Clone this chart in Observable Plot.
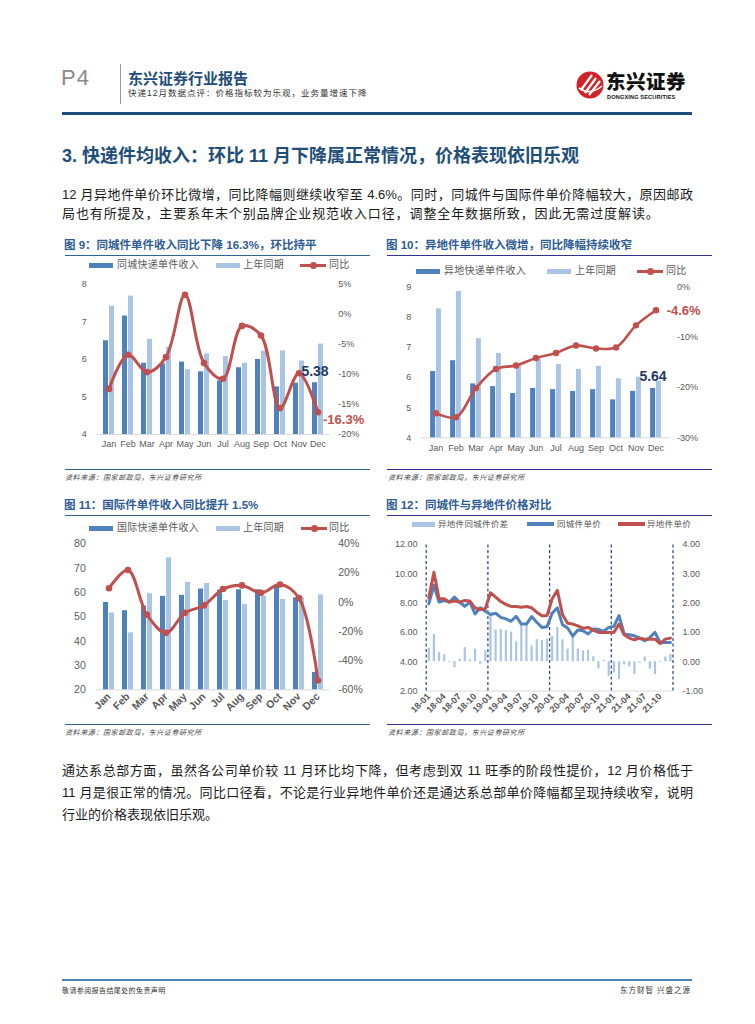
<!DOCTYPE html>
<html><head><meta charset="utf-8">
<script src="https://cdn.jsdelivr.net/npm/d3@7"></script>
<script src="https://cdn.jsdelivr.net/npm/@observablehq/plot@0.6"></script>
<style>
html,body{margin:0;padding:0;background:#fff}
body{width:755px;height:1024px;position:relative;overflow:hidden;font-family:"Liberation Sans","Noto Sans CJK SC",sans-serif;color:#222}
.a{position:absolute;white-space:nowrap}
.ttl{font-size:11.5px;font-weight:bold;color:#2e5c94;line-height:14px}
.src{font-size:7px;font-style:italic;color:#444;letter-spacing:.6px;line-height:10px}
.lg{font-size:10px;letter-spacing:.25px;color:#595959;line-height:12px}
.lg12{font-size:8.5px;letter-spacing:.3px;color:#595959;line-height:10px}
.para{font-size:13px;line-height:16px;width:631px;text-align:justify;text-align-last:justify;color:#1a1a1a;white-space:normal}
.last{text-align:left;text-align-last:left}
</style></head><body>
<script>
// ---------- data ----------
const months = ["Jan","Feb","Mar","Apr","May","Jun","Jul","Aug","Sep","Oct","Nov","Dec"];
// Fig 9 同城
const cityCur   = [6.50,7.16,5.90,5.88,5.93,5.67,5.43,5.78,6.00,5.27,5.37,5.38];
const cityPrior = [7.42,7.69,6.54,6.33,5.73,6.15,6.08,5.90,6.22,6.23,5.96,6.41];
const cityYoy   = [-12.4,-6.7,-9.6,-7.1,3.3,-8.1,-10.7,-1.9,-3.5,-15.6,-9.8,-16.3];
// Fig 10 异地
const interCur   = [6.20,6.56,5.79,5.70,5.47,5.64,5.60,5.54,5.60,5.26,5.54,5.64];
const interPrior = [8.28,8.86,7.29,6.80,6.45,6.62,6.43,6.27,6.37,5.96,6.01,5.88];
const interYoy   = [-25.1,-25.9,-20.1,-16.3,-15.6,-14.1,-13.1,-11.6,-12.2,-12.0,-7.6,-4.6];
// Fig 11 国际
const intlCur   = [55.9,52.5,54.4,58.4,58.8,61.4,61.0,61.1,61.1,62.9,57.8,27.1];
const intlPrior = [51.6,43.4,59.5,74.2,64.1,63.7,56.7,55.1,58.4,57.1,57.8,59.0];
const intlYoy   = [9.6,22.0,-8.6,-21.0,-7.3,-2.2,9.0,11.5,6.4,12.1,2.8,-53.6];
// Fig 12
const months12 = ["18-01","18-02","18-03","18-04","18-05","18-06","18-07","18-08","18-09","18-10","18-11","18-12",
  "19-01","19-02","19-03","19-04","19-05","19-06","19-07","19-08","19-09","19-10","19-11","19-12",
  "20-01","20-02","20-03","20-04","20-05","20-06","20-07","20-08","20-09","20-10","20-11","20-12",
  "21-01","21-02","21-03","21-04","21-05","21-06","21-07","21-08","21-09","21-10","21-11","21-12"];
const spread12 = [0.46,0.92,0.31,0.23,-0.03,-0.21,0.09,0.48,0.06,0.43,-0.09,0.37,
  1.54,1.08,1.10,1.06,1.01,0.68,1.23,1.23,0.54,0.75,0.72,0.77,
  0.87,1.17,0.75,0.43,0.84,0.43,0.37,0.39,0.17,-0.25,0.05,-0.50,
  -0.38,-0.61,-0.11,-0.18,-0.44,-0.05,0.16,-0.26,-0.44,-0.03,0.16,0.25];
const cityPrice12 = [7.95,9.22,8.07,8.18,8.07,8.41,8.07,7.77,8.07,7.26,7.68,7.45,
  7.22,7.31,7.03,6.92,6.76,7.10,6.57,6.57,7.08,6.69,6.34,6.39,
  7.31,7.68,6.53,6.30,5.75,6.16,6.11,5.89,6.23,6.21,6.07,6.34,
  6.41,7.15,5.89,5.84,5.77,5.61,5.43,5.66,6.00,5.31,5.31,5.31];
const interPrice12 = [8.35,10.10,8.30,8.30,8.07,8.14,8.07,8.18,8.14,7.68,7.56,7.61,
  8.71,8.41,8.11,7.91,7.77,7.77,7.72,7.77,7.68,7.38,7.13,7.15,
  8.30,8.87,7.22,6.62,6.57,6.44,6.28,6.34,6.16,6.00,6.00,6.00,
  6.00,6.57,5.84,5.61,5.49,5.61,5.54,5.54,5.54,5.24,5.54,5.61];
const ticks9L = [4,5,6,7,8], ticks9R = [-20,-15,-10,-5,0,5];
const ticks10L = [4,5,6,7,8,9], ticks10R = [-30,-20,-10,0];
const ticks11L = [20,30,40,50,60,70,80], ticks11R = [-60,-40,-20,0,20,40];
const ticks12L = [2,4,6,8,10,12], ticks12R = [-1,0,1,2,3,4];

// ---------- helpers ----------
const FONT = '"Liberation Sans","Noto Sans CJK SC",sans-serif';
const DARK = "#4f81bd", LIGHT = "#a9c4e4", RED = "#c0504d";
function el(html, left, top, cls, style){
  const d = document.createElement("div");
  d.className = "a " + (cls||"");
  d.style.left = left + "px"; d.style.top = top + "px";
  if (style) d.style.cssText += style;
  d.innerHTML = html;
  document.body.appendChild(d);
  return d;
}
function box(left, top, w, h, color){
  return el("", left, top, "", `width:${w}px;height:${h}px;background:${color}`);
}
function place(svg, left, top){
  const w = document.createElement("div");
  w.className = "a"; w.style.left = left+"px"; w.style.top = top+"px";
  w.appendChild(svg); document.body.appendChild(w);
}

function combo(o){
  const toL = d3.scaleLinear().domain(o.rDomain).range(o.yDomain);
  const rows = months.map((m,i)=>({m, cur:o.cur[i], prior:o.prior[i], yoy:o.yoy[i], yl:toL(o.yoy[i])}));
  const base = o.yDomain[0];
  const pw = o.width - o.ml - o.mr, step = pw / months.length;
  const pi = 1 - o.barW / step;
  const off = o.barW/2 + 0.5;
  const last = [rows[rows.length-1]];
  const marks = [
    Plot.ruleY([base], {stroke:"#d9d9d9", strokeWidth:1}),
    Plot.barY(rows, {x:"m", y1:()=>base, y2:"cur", fill:DARK, dx:-off}),
    Plot.barY(rows, {x:"m", y1:()=>base, y2:"prior", fill:LIGHT, dx:off}),
    Plot.line(rows, {x:"m", y:"yl", stroke:RED, strokeWidth:o.lw, curve:"catmull-rom"}),
    Plot.dot(rows, {x:"m", y:"yl", r:o.r, fill:RED, stroke:"none"}),
    Plot.axisY(o.yTicks, {tickSize:0, tickPadding:o.lpad, fontSize:o.fs, label:null}),
    Plot.axisY(o.rTicks.map(toL), {anchor:"right", tickSize:0, tickPadding:o.rpad, fontSize:o.fs, label:null,
      tickFormat:v=>Math.round(toL.invert(v))+"%"}),
    Plot.axisX(months, {tickSize:0, tickPadding:o.xpad, fontSize:o.xfs, fontWeight:o.xfw||"normal", tickRotate:o.rot||0, label:null})
  ];
  if (o.annot) {
    marks.push(Plot.text(last, {x:"m", y:"cur", text:d=>d.cur.toFixed(2), dx:o.annot.cdx, dy:o.annot.cdy,
      fill:"#1f3864", fontSize:14, fontWeight:"bold"}));
    marks.push(Plot.text(last, {x:"m", y:"yl", text:d=>d.yoy.toFixed(1)+"%", textAnchor:"start", dx:o.annot.ydx, dy:o.annot.ydy,
      fill:RED, fontSize:13, fontWeight:"bold"}));
  }
  return Plot.plot({
    width:o.width, height:o.height, marginTop:o.mt, marginBottom:o.mb, marginLeft:o.ml, marginRight:o.mr,
    style:{fontFamily:FONT, color:"#595959", background:"none", overflow:"visible"},
    x:{type:"band", domain:months, paddingInner:pi, paddingOuter:pi/2, label:null},
    y:{domain:o.yDomain, label:null},
    marks
  });
}

function legend3(y, pos, names){
  box(pos[0], y-2.5, 24, 5, DARK);
  el(names[0], pos[1], y-6, "lg");
  box(pos[2], y-2.5, 24, 5, LIGHT);
  el(names[1], pos[3], y-6, "lg");
  box(pos[4], y-1.5, 26, 3, RED);
  el("", pos[4]+13-3.5, y-3.5, "", `width:7px;height:7px;border-radius:50%;background:${RED}`);
  el(names[2], pos[5], y-6, "lg");
}

// ---------- header ----------
el("P4", 61, 66, "", "font-size:22px;color:#8a8a8a;line-height:24px;letter-spacing:1px");
box(120, 64, 1, 40, "#9a9a9a");
el("东兴证券行业报告", 128, 69, "", "font-size:15px;font-weight:bold;color:#1f4e79;line-height:18px;font-family:'Noto Sans CJK SC'");
el("快递12月数据点评：价格指标较为乐观，业务量增速下降", 128, 88, "", "font-size:8.5px;letter-spacing:1px;color:#333;line-height:11px");
el(`<svg width="30" height="38" viewBox="0 0 30 38">
  <circle cx="14" cy="19" r="13.5" fill="#d2232a"/>
  <path d="M5 24 L16 9 M9 27 L20 12 M13 29 L24 15" stroke="#fff" stroke-width="2.2" fill="none"/>
  <path d="M3 22 Q14 30 26 20" stroke="#fff" stroke-width="1.6" fill="none"/>
</svg>`, 576, 66, "");
el("东兴证券", 606, 69, "", "font-size:19.5px;font-weight:900;color:#111;line-height:24px;font-family:'Noto Sans CJK SC';letter-spacing:.5px");
el("DONGXING SECURITIES", 607, 94, "", "font-size:5.6px;font-weight:bold;color:#111;line-height:7px;letter-spacing:.15px");
box(62, 112, 630, 3, "#1f4e79");

// ---------- section heading & paragraph ----------
el("3.&nbsp;快递件均收入：环比 11 月下降属正常情况，价格表现依旧乐观", 62, 145, "",
  "font-size:18px;font-weight:bold;color:#1f4e79;line-height:22px;font-family:'Liberation Sans','Noto Sans CJK SC'");
el("12 月异地件单价环比微增，同比降幅则继续收窄至 4.6%。同时，同城件与国际件单价降幅较大，原因邮政", 62, 187, "para");
el("局也有所提及，主要系年末个别品牌企业规范收入口径，调整全年数据所致，因此无需过度解读。", 62, 206, "para last", "letter-spacing:0.9px");

// ---------- figure titles / rules / sources ----------
el("图 9：同城件单件收入同比下降 16.3%，环比持平", 64, 238, "ttl");
el("图 10：异地件单件收入微增，同比降幅持续收窄", 386, 238, "ttl");
el("图 11：国际件单件收入同比提升 1.5%", 64, 498, "ttl");
el("图 12：同城件与异地件价格对比", 386, 498, "ttl");
const LC = "#2f6296", RC = "#2e3192";
box(65, 254.5, 305, 1.5, LC); box(387, 254.5, 325, 1.5, RC);
box(65, 468.5, 305, 1.5, LC); box(387, 468.5, 325, 1.5, RC);
box(65, 514.5, 305, 1.5, LC); box(387, 514.5, 325, 1.5, RC);
box(65, 723.5, 305, 1.5, LC); box(387, 723.5, 325, 1.5, RC);
const srcText = "资料来源：国家邮政局，东兴证券研究所";
el(srcText, 65, 473, "src"); el(srcText, 388, 473, "src");
el(srcText, 65, 728, "src"); el(srcText, 388, 728, "src");

// ---------- legends ----------
legend3(265, [89,117,216,243,300,329], ["同城快递单件收入","上年同期","同比"]);
legend3(271, [416,444,547,575,637,666], ["异地快递单件收入","上年同期","同比"]);
legend3(528, [89,117,216,243,301,329], ["国际快递单件收入","上年同期","同比"]);
box(412, 521.5, 23, 5, LIGHT); el("异地件同城件价差", 438, 519, "lg12");
box(527, 522, 27, 3.5, DARK); el("同城件单价", 557, 519, "lg12");
box(618, 522, 27, 3.5, RED); el("异地件单价", 647, 519, "lg12");

// ---------- charts ----------
place(combo({cur:cityCur, prior:cityPrior, yoy:cityYoy, yDomain:[4,8], rDomain:[-20,5], yTicks:ticks9L, rTicks:ticks9R,
  width:340, height:190, mt:14, mb:26, ml:56.3, mr:50.3, barW:5, lw:3, r:3.3, lpad:10, rpad:8, fs:9, xfs:9, xpad:6,
  annot:{cdx:-3, cdy:-11, ydx:5, ydy:7.5}}), 40, 270);
place(combo({cur:interCur, prior:interPrior, yoy:interYoy, yDomain:[4,9], rDomain:[-30,0], yTicks:ticks10L, rTicks:ticks10R,
  width:340, height:190, mt:11.7, mb:27.7, ml:41.4, mr:50.4, barW:4.8, lw:2.6, r:3.2, lpad:10.7, rpad:7, fs:9, xfs:9, xpad:6.5,
  annot:{cdx:-3, cdy:-12, ydx:10.7, ydy:1}}), 380, 275);
place(combo({cur:intlCur, prior:intlPrior, yoy:intlYoy, yDomain:[20,80], rDomain:[-60,40], yTicks:ticks11L, rTicks:ticks11R,
  width:340, height:200, mt:8.3, mb:45.7, ml:56.3, mr:50.3, barW:5, lw:3, r:3.3, lpad:11, rpad:8, fs:10.5, xfs:10.5, xfw:"bold", xpad:5, rot:-45}), 40, 535);

// fig 12
(function(){
  const toL = d3.scaleLinear().domain([-1,4]).range([2,12]);
  const rows = months12.map((m,i)=>({i, m, sp:spread12[i], spl:toL(spread12[i]), c:cityPrice12[i], t:interPrice12[i]}));
  const seps = months12.map((m,i)=>m.endsWith("-01") ? i-0.5 : null).filter(v=>v!==null).concat([months12.length-0.5]);
  const tickIdx = rows.filter(d=>d.i%3===0).map(d=>d.i);
  const svg = Plot.plot({
    width:340, height:200, marginTop:9, marginBottom:44.5, marginLeft:45.7, marginRight:47.5,
    style:{fontFamily:FONT, color:"#595959", background:"none", overflow:"visible"},
    x:{type:"linear", domain:[-0.5, months12.length-0.5], label:null},
    y:{domain:[2,12], label:null},
    marks:[
      Plot.ruleY([2], {stroke:"#d9d9d9"}),
      Plot.ruleX(rows, {x:"i", y1:()=>toL(0), y2:"spl", stroke:LIGHT, strokeWidth:2.2}),
      Plot.ruleX(seps, {x:d=>d, y1:()=>2, y2:()=>12, stroke:"#2f4f8a", strokeWidth:1.3, strokeDasharray:"3,2.5"}),
      Plot.line(rows, {x:"i", y:"c", stroke:DARK, strokeWidth:3, strokeLinejoin:"round"}),
      Plot.line(rows, {x:"i", y:"t", stroke:RED, strokeWidth:3, strokeLinejoin:"round"}),
      Plot.axisY(ticks12L, {tickSize:0, tickPadding:8.7, fontSize:9, label:null, tickFormat:v=>v.toFixed(2)}),
      Plot.axisY(ticks12R.map(toL), {anchor:"right", tickSize:0, tickPadding:9.5, fontSize:9, label:null, tickFormat:v=>toL.invert(v).toFixed(2)}),
      Plot.axisX(tickIdx, {tickSize:0, tickPadding:4, fontSize:9, fontWeight:"bold", tickRotate:-45, label:null, tickFormat:i=>months12[i]})
    ]
  });
  place(svg, 380, 535);
})();

// ---------- second paragraph ----------
el("通达系总部方面，虽然各公司单价较 11 月环比均下降，但考虑到双 11 旺季的阶段性提价，12 月价格低于", 62, 763, "para");
el("11 月是很正常的情况。同比口径看，不论是行业异地件单价还是通达系总部单价降幅都呈现持续收窄，说明", 62, 785, "para");
el("行业的价格表现依旧乐观。", 62, 807, "para last");

// ---------- footer ----------
box(62, 979, 630, 2, "#4f81bd");
el("敬请参阅报告结尾处的免责声明", 62, 986, "", "font-size:7px;letter-spacing:.4px;color:#333;line-height:10px");
el("东方财智 兴盛之源", 620, 986, "", "font-size:7.5px;letter-spacing:1px;color:#333;line-height:10px");
</script>
</body></html>
